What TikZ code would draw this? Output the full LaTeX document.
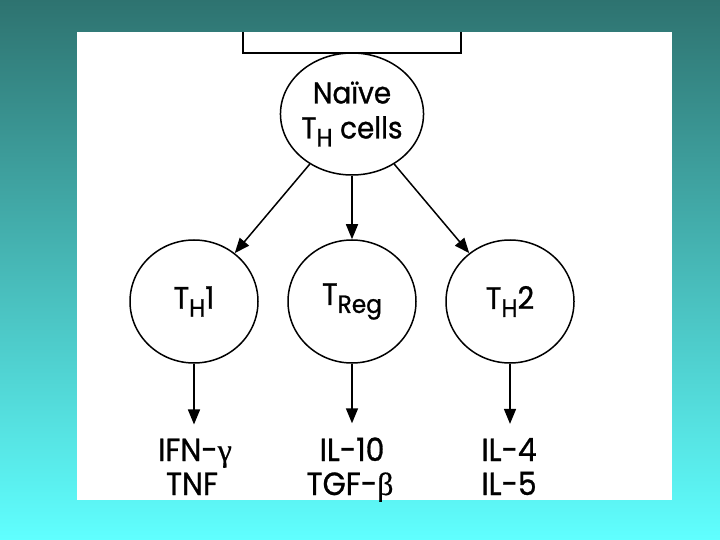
\documentclass[tikz,border=0pt]{standalone}
\usepackage{fontspec}
\setmainfont{Poppins}[FakeBold=0.9, FakeStretch=0.93]
\newfontfamily\grk{Liberation Serif}[FakeBold=0.6]
\usetikzlibrary{arrows.meta,shapes.geometric}
\definecolor{bgtop}{HTML}{2E7370}
\definecolor{bgbot}{HTML}{60FFFF}
\newcommand\sbx[2]{\raisebox{-8pt}{\fontsize{#1}{#1}\selectfont #2}}
\begin{document}
\begin{tikzpicture}[x=1pt,y=-1pt,
  cell/.style={draw=black, line width=1.5pt, ellipse, minimum width=128pt, minimum height=123pt, inner sep=0pt, align=center, font=\fontsize{31}{31}\selectfont},
  lbl/.style={inner sep=0pt, font=\fontsize{32}{32}\selectfont},
  arr/.style={draw=black, line width=1.5pt, -{Triangle[length=15pt,width=12pt]}}]
\useasboundingbox (0,0) rectangle (720,540);
\shade[top color=bgtop, bottom color=bgbot] (0,0) rectangle (720,540);
\fill[white] (77,32) rectangle (672,500);
\draw[line width=1.5pt] (243,32) -- (243,53) -- (461,53) -- (461,32);

\node[cell, minimum width=129pt, minimum height=122pt, font=\fontsize{30}{35}\selectfont] (naive) at (352,114) {Naïve\\T\sbx{25}{H} cells};
\node[cell] (th1) at (194,301.5) {T\sbx{25}{H}1};
\node[cell] (treg) at (352,301.5) {T\sbx{25}{Reg}};
\node[cell] (th2) at (510,301.5) {T\sbx{25}{H}2};

\node[lbl, anchor=base] (ifn) at (195,461) {IFN-{\grk γ}};
\node[lbl, anchor=base] (tnf) at (192,495) {TNF};
\node[lbl, anchor=base] (il10) at (352,461) {IL-10};
\node[lbl, anchor=base] (tgf) at (350,495) {TGF-{\grk β}};
\node[lbl, anchor=base] (il4) at (509,461) {IL-4};
\node[lbl, anchor=base] (il5) at (509,495) {IL-5};

\draw[arr] (naive) -- (th1);
\draw[arr] (naive) -- (treg);
\draw[arr] (naive) -- (th2);
\draw[arr, shorten >=14pt] (th1) -- (th1 |- ifn.north);
\draw[arr, shorten >=14pt] (treg) -- (treg |- il10.north);
\draw[arr, shorten >=14pt] (th2) -- (th2 |- il4.north);
\end{tikzpicture}
\end{document}
